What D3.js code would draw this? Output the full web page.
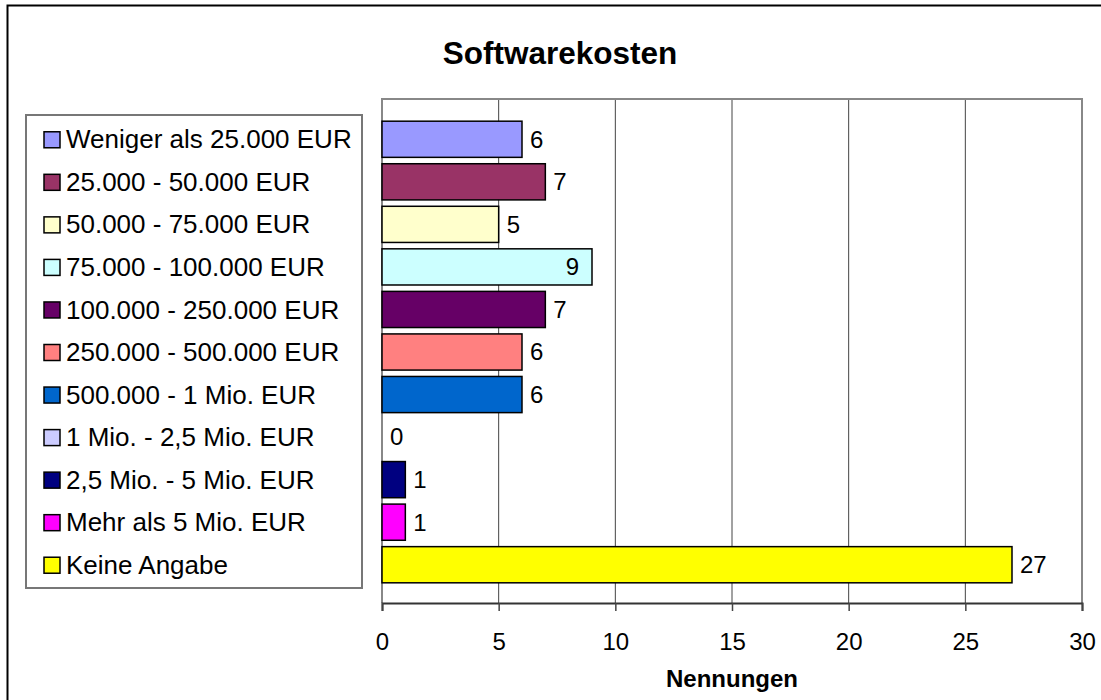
<!DOCTYPE html>
<html>
<head>
<meta charset="utf-8">
<script src="https://cdn.jsdelivr.net/npm/d3@7"></script>
<style>
  html, body { margin: 0; padding: 0; background: #fff; }
  svg { display: block; font-family: "Liberation Sans", Arial, sans-serif; }
</style>
</head>
<body>
<svg id="chart" width="1101" height="700"></svg>
<script>
const categories = [
  "Weniger als 25.000 EUR",
  "25.000 - 50.000 EUR",
  "50.000 - 75.000 EUR",
  "75.000 - 100.000 EUR",
  "100.000 - 250.000 EUR",
  "250.000 - 500.000 EUR",
  "500.000 - 1 Mio. EUR",
  "1 Mio. - 2,5 Mio. EUR",
  "2,5 Mio. - 5 Mio. EUR",
  "Mehr als 5 Mio. EUR",
  "Keine Angabe"
];
const values = [6, 7, 5, 9, 7, 6, 6, 0, 1, 1, 27];
const palette = ["#9999FF", "#993366", "#FFFFCC", "#CCFFFF", "#660066", "#FF8080",
                 "#0066CC", "#CCCCFF", "#000080", "#FF00FF", "#FFFF00"];
const xTicks = [0, 5, 10, 15, 20, 25, 30];
const insideLabels = ["75.000 - 100.000 EUR"];
const title = "Softwarekosten";
const xTitle = "Nennungen";

const svg = d3.select("#chart");
const FS = 24;

// outer chart border
svg.append("rect").attr("x", 7.5).attr("y", 5.5).attr("width", 1200).attr("height", 800)
  .attr("fill", "#fff").attr("stroke", "#000").attr("stroke-width", 2);

const x = d3.scaleLinear().domain([0, 30]).range([382, 1082]);
const y = d3.scaleBand().domain(categories).range([118, 586])
  .paddingInner(0.15).paddingOuter(0.075);

const plotTop = 99, plotBottom = 603;

// title
svg.append("text").attr("x", 560).attr("y", 64).attr("text-anchor", "middle")
  .attr("font-size", 31.5).attr("font-weight", "bold").text(title);

// gridlines
svg.append("g").selectAll("line").data(xTicks.slice(1, -1)).join("line")
  .attr("x1", d => x(d)).attr("x2", d => x(d))
  .attr("y1", plotTop).attr("y2", plotBottom)
  .attr("stroke", "#444").attr("stroke-width", 1);

// plot area border (top, right, left)
svg.append("path")
  .attr("d", `M${x(0)},${plotBottom}V${plotTop}H${x(30)}V${plotBottom}`)
  .attr("fill", "none").attr("stroke", "#888").attr("stroke-width", 2);

// bars
svg.append("g").selectAll("rect").data(categories).join("rect")
  .attr("x", x(0))
  .attr("y", d => y(d))
  .attr("width", (d, i) => x(values[i]) - x(0))
  .attr("height", y.bandwidth())
  .attr("fill", (d, i) => palette[i])
  .attr("stroke", "#000").attr("stroke-width", 1.5)
  .attr("display", (d, i) => values[i] === 0 ? "none" : null);

// value labels
svg.append("g").selectAll("text").data(categories).join("text")
  .attr("x", (d, i) => insideLabels.includes(d) ? x(values[i]) - 13 : x(values[i]) + 8)
  .attr("y", d => y(d) + y.bandwidth() / 2)
  .attr("dy", "0.35em")
  .attr("text-anchor", d => insideLabels.includes(d) ? "end" : "start")
  .attr("font-size", FS)
  .text((d, i) => values[i]);

// x axis
const axis = svg.append("g").attr("transform", `translate(0,${plotBottom})`)
  .call(d3.axisBottom(x).tickValues(xTicks).tickSize(8).tickPadding(22).tickFormat(d3.format("d")));
axis.select(".domain").attr("stroke", "#333").attr("stroke-width", 2);
axis.selectAll(".tick line").attr("stroke", "#444").attr("stroke-width", 1.5);
axis.selectAll(".tick text").attr("font-size", FS).attr("fill", "#000")
  .attr("font-family", "'Liberation Sans', Arial, sans-serif");

svg.append("text").attr("x", (x(0) + x(30)) / 2).attr("y", 687).attr("text-anchor", "middle")
  .attr("font-size", FS).attr("font-weight", "bold").text(xTitle);

// legend
const lg = svg.append("g");
lg.append("rect").attr("x", 26).attr("y", 115).attr("width", 336).attr("height", 473)
  .attr("fill", "#fff").attr("stroke", "#777").attr("stroke-width", 2);
const items = lg.selectAll("g.item").data(categories).join("g").attr("class", "item")
  .attr("transform", d => `translate(0,${y(d) + y.bandwidth() / 2})`);
items.append("rect").attr("x", 44).attr("y", -7.5).attr("width", 16).attr("height", 16)
  .attr("fill", (d, i) => palette[i]).attr("stroke", "#000").attr("stroke-width", 1.5);
items.append("text").attr("x", 66).attr("dy", "0.35em").attr("font-size", 26).text(d => d);
</script>
</body>
</html>
